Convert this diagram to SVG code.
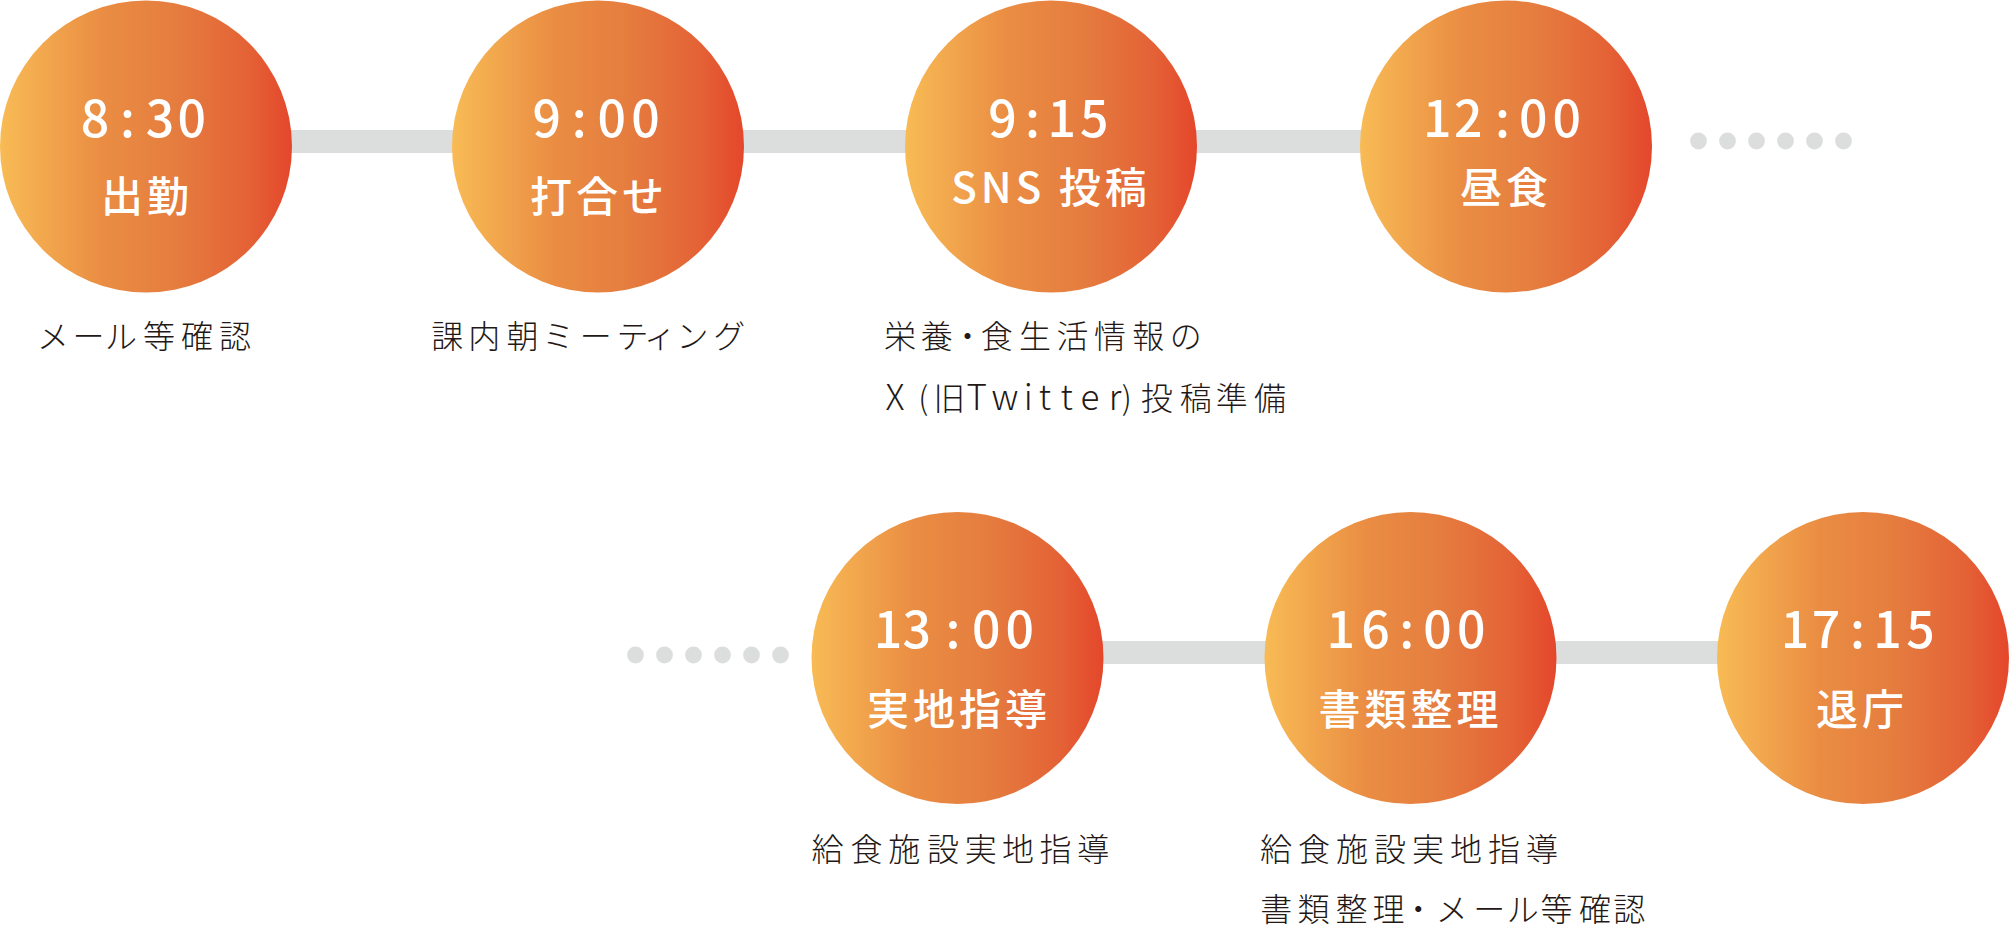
<svg xmlns="http://www.w3.org/2000/svg" width="2010" height="926" viewBox="0 0 2010 926">
<defs>
<linearGradient id="g" x1="0" y1="0" x2="1" y2="0">
<stop offset="0" stop-color="#F8BB55"/>
<stop offset="0.35" stop-color="#EA8D43"/>
<stop offset="0.6" stop-color="#E57D3F"/>
<stop offset="0.85" stop-color="#E46236"/>
<stop offset="1" stop-color="#E4472B"/>
</linearGradient>
</defs>
<style>
.c{fill:url(#g)}
.bar{fill:#DCDDDD}
.dot{fill:#DCDDDD}
.t{font-family:"Noto Sans CJK JP","Noto Sans",sans-serif;font-size:50px;font-weight:500;fill:#fff;text-anchor:middle}
.l{font-family:"Noto Sans CJK JP","Noto Sans",sans-serif;font-size:42px;font-weight:500;fill:#fff;text-anchor:middle;letter-spacing:4px}
.s{font-family:"Noto Sans CJK JP","Noto Sans",sans-serif;font-size:32px;font-weight:300;fill:#231815;text-anchor:middle}
.lat{font-size:35px}
</style>
<g id="connectors">
<rect class="bar" x="280" y="130" width="185" height="23"/>
<rect class="bar" x="730" y="130" width="190" height="23"/>
<rect class="bar" x="1185" y="130" width="190" height="23"/>
<rect class="bar" x="1090" y="641" width="190" height="23"/>
<rect class="bar" x="1545" y="641" width="185" height="23"/>
<g id="dots-top">
<circle class="dot" cx="1698.5" cy="141" r="8.4"/>
<circle class="dot" cx="1727.5" cy="141" r="8.4"/>
<circle class="dot" cx="1756.5" cy="141" r="8.4"/>
<circle class="dot" cx="1785.5" cy="141" r="8.4"/>
<circle class="dot" cx="1814.5" cy="141" r="8.4"/>
<circle class="dot" cx="1843.5" cy="141" r="8.4"/>
</g>
<g id="dots-bottom">
<circle class="dot" cx="635.5" cy="655" r="8.4"/>
<circle class="dot" cx="664.5" cy="655" r="8.4"/>
<circle class="dot" cx="693.5" cy="655" r="8.4"/>
<circle class="dot" cx="722.5" cy="655" r="8.4"/>
<circle class="dot" cx="751.5" cy="655" r="8.4"/>
<circle class="dot" cx="780.5" cy="655" r="8.4"/>
</g>
</g>
<g id="n1">
<circle class="c" cx="146" cy="146.5" r="146"/>
<text class="t" x="95 127.5 160 191.7" y="137">8:30</text>
<text class="l" x="147" y="212">出勤</text>
<text class="s" x="53 88.5 121 159 197 235" y="348">メール等確認</text>
</g>
<g id="n2">
<circle class="c" cx="598" cy="146.5" r="146"/>
<text class="t" x="546.7 579.2 611.7 645.5" y="137">9:00</text>
<text class="l" x="599" y="212">打合せ</text>
<text class="s" x="447.2 484.2 522.5 558.3 595.8 632.5 660 692.5 729.2" y="348">課内朝ミーティング</text>
</g>
<g id="n3">
<circle class="c" cx="1051" cy="146.5" r="146"/>
<text class="t" x="1002.5 1032.5 1061.7 1094.2" y="137">9:15</text>
<text class="l" x="1051" y="203">SNS 投稿</text>
<text class="s" x="900 936.7 967.5 996.7 1035 1072.5 1110 1148.3 1185.8" y="348">栄養・食生活情報の</text>
<text class="s" y="410"><tspan class="lat" x="895">X</tspan><tspan x="923.3">(</tspan><tspan x="949.2">旧</tspan><tspan class="lat" x="976.7 1005 1028.3 1045 1066.7 1090 1115">Twitter</tspan><tspan x="1126.7">)</tspan><tspan x="1156.7 1195.8 1231.7 1270">投稿準備</tspan></text>
</g>
<g id="n4">
<circle class="c" cx="1506" cy="146.5" r="146"/>
<text class="t" x="1437.2 1468.3 1502.5 1533.3 1566.7" y="137">12:00</text>
<text class="l" x="1506" y="203">昼食</text>
</g>
<g id="n5">
<circle class="c" cx="957.5" cy="658" r="146"/>
<text class="t" x="888 916.7 953 986.3 1019.7" y="648">13:00</text>
<text class="l" x="959" y="725">実地指導</text>
<text class="s" x="827.5 866.5 904.2 942.9 980.8 1018.1 1055.4 1093.3" y="861">給食施設実地指導</text>
</g>
<g id="n6">
<circle class="c" cx="1410.5" cy="658" r="146"/>
<text class="t" x="1340.8 1375.6 1406.6 1437.6 1471.2" y="648">16:00</text>
<text class="l" x="1410.5" y="725">書類整理</text>
<text class="s" x="1276 1314 1352 1390 1428 1466 1504 1542" y="861">給食施設実地指導</text>
<text class="s" x="1276.2 1313.6 1351.6 1388.5 1418.2 1451.8 1489.3 1522.8 1556.4 1595.1 1629.2" y="921">書類整理・メール等確認</text>
</g>
<g id="n7">
<circle class="c" cx="1863" cy="658" r="146"/>
<text class="t" x="1795 1826 1857.5 1887.5 1920.5" y="648">17:15</text>
<text class="l" x="1862" y="725">退庁</text>
</g>
</svg>
